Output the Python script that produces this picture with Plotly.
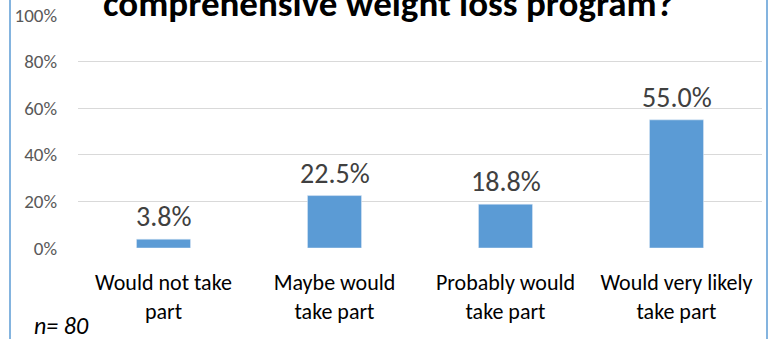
import plotly.graph_objects as go

categories = ["Would not take<br>part", "Maybe would<br>take part", "Probably would<br>take part", "Would very likely<br>take part"]
values = [0.038, 0.225, 0.188, 0.55]
title_text = "comprehensive weight loss program?"
note_text = "<i>n= 80</i>"

FONT = "Carlito, Lato, sans-serif"
W, H = 777, 339
L, R, T, B = 78, 15, 15, 91
pw, ph = W - L - R, H - T - B

def px_x(p):
    return (p - L) / pw

def px_y(p):
    return (H - B - p) / ph

fig = go.Figure()
fig.add_bar(x=list(range(len(categories))), y=values, marker_color="#5B9BD5",
            width=0.316, hoverinfo="skip")

for i, v in enumerate(values):
    fig.add_annotation(x=i, y=v, xref="x", yref="y", text=f"{v*100:.1f}%",
                       showarrow=False, yanchor="bottom", yshift=3,
                       font=dict(family=FONT, size=28, color="#404040"))

fig.add_annotation(x=px_x(388), y=px_y(28), xref="paper", yref="paper",
                   text=f"<b>{title_text}</b>", showarrow=False,
                   xanchor="center", yanchor="bottom",
                   font=dict(family=FONT, size=37, color="#000000"))
fig.add_annotation(x=px_x(32), y=px_y(325), xref="paper", yref="paper",
                   text=note_text, showarrow=False, xanchor="left", yanchor="middle",
                   font=dict(family=FONT, size=24, color="#000000"))

fig.add_shape(type="line", xref="paper", yref="paper",
              x0=px_x(10), x1=px_x(10), y0=px_y(0), y1=px_y(339),
              line=dict(color="#5B9BD5", width=1.5))
fig.add_shape(type="line", xref="paper", yref="paper",
              x0=px_x(767), x1=px_x(767), y0=px_y(0), y1=px_y(339),
              line=dict(color="#5B9BD5", width=1.5))

fig.update_layout(
    width=W, height=H, margin=dict(l=L, r=R, t=T, b=B),
    plot_bgcolor="white", paper_bgcolor="white", showlegend=False,
    xaxis=dict(tickmode="array", tickvals=list(range(len(categories))), ticktext=categories,
               range=[-0.5, len(categories) - 0.5], showgrid=False, zeroline=False,
               showline=False, ticks="", ticklabelstandoff=19, automargin=False,
               tickfont=dict(family=FONT, size=22, color="#000000")),
    yaxis=dict(range=[0, 1], tickvals=[0, 0.2, 0.4, 0.6, 0.8, 1.0], tickformat=".0%",
               showgrid=True, gridcolor="#D9D9D9", gridwidth=1, zeroline=False,
               showline=False, ticks="", ticklabelstandoff=20, automargin=False,
               tickfont=dict(family=FONT, size=19, color="#595959")),
)

fig.write_html("out.html")
